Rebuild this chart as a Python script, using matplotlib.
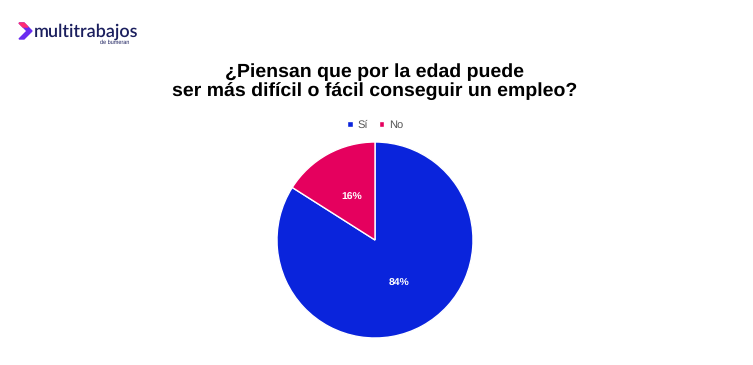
import matplotlib.pyplot as plt
from matplotlib.patches import Polygon

# datos
etiquetas = ['Sí', 'No']
valores = [84, 16]
colores = ['#0A24DC', '#E5005E']

W, H = 753, 365
plt.rcParams['font.family'] = ['Liberation Sans', 'DejaVu Sans']
plt.rcParams['text.hinting'] = 'no_hinting'
fig = plt.figure(figsize=(W / 100, H / 100), dpi=100)

# torta
cx, cy, r = 375, 240, 98
ax = fig.add_axes([(cx - r) / W, (H - cy - r) / H, 2 * r / W, 2 * r / H])
wedges, textos, pcts = ax.pie(valores, colors=colores, startangle=90, counterclock=False,
                              autopct='%1.0f%%', pctdistance=0.5,
                              wedgeprops=dict(edgecolor='white', linewidth=1))
for t in pcts:
    t.set_color('white')
    t.set_fontsize(7.5)
    t.set_fontweight('bold')
ax.set_xlim(-1, 1)
ax.set_ylim(-1, 1)
ax.set_aspect('equal')

# titulo
fig.text(cx / W, 1 - 72 / H, '¿Piensan que por la edad puede', ha='center', va='center',
         fontsize=14, fontweight='bold', color='black')
fig.text(cx / W, 1 - 91 / H, 'ser más difícil o fácil conseguir un empleo?', ha='center', va='center',
         fontsize=14, fontweight='bold', color='black')

# leyenda
fig.legend(wedges, etiquetas, loc='center', bbox_to_anchor=(375 / W, 1 - 125 / H), ncol=2,
           frameon=False, fontsize=8, handlelength=0.5, handleheight=0.5, handletextpad=0.4,
           columnspacing=1.0, labelcolor='#555555')

# logo
logo = fig.add_axes([0, 0, 1, 1], facecolor='none')
logo.set_xlim(0, W)
logo.set_ylim(H, 0)
logo.axis('off')
logo.add_patch(Polygon([(19, 23), (24, 23), (32, 31), (24, 39), (19, 39), (27, 31)],
                       closed=True, color='#6a2cf0'))
logo.add_patch(Polygon([(19, 23), (24, 23), (28, 27), (23, 27)], closed=True, color='#ff2d75'))
logo.text(34, 32, 'multitrabajos', fontsize=13, color='#1b1f5e', va='center', ha='left',
          family=['Lato', 'DejaVu Sans'], fontweight='semibold')
logo.text(115, 42, 'de bumeran', fontsize=4, color='#1b1f5e', va='center', ha='center')

fig.savefig('out.png', dpi=100)
